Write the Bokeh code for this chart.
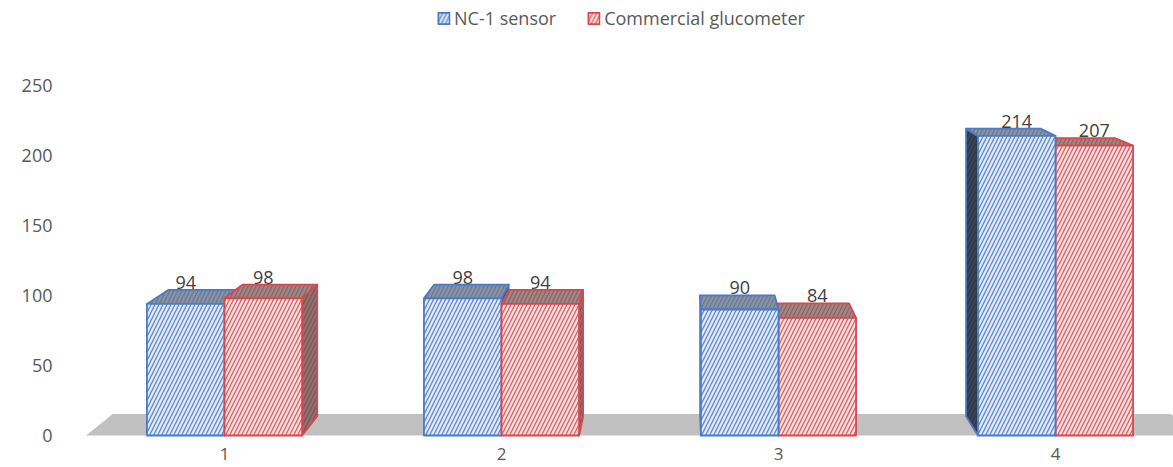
from bokeh.plotting import figure
from bokeh.models import ColumnDataSource, Range1d, FixedTicker, Legend, LegendItem
from bokeh.embed import file_html
from bokeh.resources import INLINE
from bokeh.core.properties import value

# ---- data -------------------------------------------------------------
categories = ["1", "2", "3", "4"]
nc1_sensor = [94, 98, 90, 214]
commercial_glucometer = [98, 94, 84, 207]
series_names = ["NC-1 sensor", "Commercial glucometer"]
y_ticks = [0, 50, 100, 150, 200, 250]

# ---- pseudo-3D look ---------------------------------------------------
FONT = "Open Sans"
BAR_W = 0.28            # width of one bar in category units
VP = (2.646, 343.0)     # point the depth edges recede toward (data units)
K_BAR = 0.04            # bar depth as a fraction of the distance to VP
K_FLOOR = 0.045         # floor depth

STYLE = [
    dict(front=("#E2EAF6", "#5A86CE"), top=("#8893A6", "#6A7892"),
         side=("#3A4453", "#2E3746"), line="#4A7AC8"),
    dict(front=("#FAE2E2", "#DC5A60"), top=("#A38585", "#8A6464"),
         side=("#917070", "#7A5656"), line="#D9474E"),
]


def back(x, y, k):
    return x + k * (VP[0] - x), y + k * (VP[1] - y)


def empty():
    return dict(xs=[], ys=[], fill=[], hatch=[], line=[])


def add(d, pts, fill, hatch, line):
    d["xs"].append([pt[0] for pt in pts])
    d["ys"].append([pt[1] for pt in pts])
    d["fill"].append(fill)
    d["hatch"].append(hatch)
    d["line"].append(line)


# two drawing layers: bars farther from VP first, nearer ones on top
layers = [dict(side=empty(), top=empty(), front=empty()) for _ in range(2)]
legend_rows = {}
labels = dict(x=[], y=[], text=[])

for i, cat in enumerate(categories):
    xc = i + 1
    bars = [(0, xc - BAR_W, xc, nc1_sensor[i]),
            (1, xc, xc + BAR_W, commercial_glucometer[i])]
    bars.sort(key=lambda b: -abs((b[1] + b[2]) / 2 - VP[0]))
    for layer_idx, (s, x0, x1, v) in enumerate(bars):
        st = STYLE[s]
        L = layers[layer_idx]
        if x0 > VP[0]:
            add(L["side"], [(x0, 0), (x0, v), back(x0, v, K_BAR), back(x0, 0, K_BAR)],
                st["side"][0], st["side"][1], st["line"])
        if x1 < VP[0]:
            add(L["side"], [(x1, 0), (x1, v), back(x1, v, K_BAR), back(x1, 0, K_BAR)],
                st["side"][0], st["side"][1], st["line"])
        add(L["top"], [(x0, v), (x1, v), back(x1, v, K_BAR), back(x0, v, K_BAR)],
            st["top"][0], st["top"][1], st["line"])
        if layer_idx == 0 and s not in legend_rows:
            legend_rows[s] = len(L["front"]["xs"])
        add(L["front"], [(x0, 0), (x1, 0), (x1, v), (x0, v)],
            st["front"][0], st["front"][1], st["line"])
        labels["x"].append((x0 + x1) / 2)
        labels["y"].append(back((x0 + x1) / 2, v, K_BAR)[1])
        labels["text"].append(str(v))

# ---- figure -----------------------------------------------------------
p = figure(width=1173, height=467, output_backend="svg", toolbar_location=None,
           x_range=Range1d(0.4368, 4.426), y_range=Range1d(-4.29, 310.7),
           min_border_left=68, min_border_right=0, min_border_top=0,
           min_border_bottom=26)
p.outline_line_color = None
p.xgrid.visible = False
p.ygrid.visible = False
p.background_fill_color = "white"

# floor
fl = [(0.5, 0), (4.5, 0), back(4.5, 0, K_FLOOR), back(0.5, 0, K_FLOOR)]
p.patch([q[0] for q in fl], [q[1] for q in fl], fill_color="#C0C0C0",
        line_color=None)

front_renderers = []
for L in layers:
    for face in ("side", "top", "front"):
        src = ColumnDataSource(L[face])
        r = p.patches("xs", "ys", source=src, fill_color="fill",
                      hatch_color="hatch", hatch_pattern="/", hatch_scale=8,
                      hatch_weight=1.3, line_color="line", line_width=1.8,
                      line_join="round")
        if face == "front":
            front_renderers.append(r)

p.text(x="x", y="y", text="text", source=ColumnDataSource(labels),
       text_font=value(FONT), text_font_size="18px", text_color="#404040",
       text_align="center", text_baseline="bottom", y_offset=-1)

# axes
for ax in (p.xaxis[0], p.yaxis[0]):
    ax.axis_line_color = None
    ax.major_tick_line_color = None
    ax.minor_tick_line_color = None
    ax.major_label_text_font = FONT
    ax.major_label_text_color = "#595959"
p.yaxis.major_label_text_font_size = "18px"
p.yaxis.ticker = FixedTicker(ticks=y_ticks)
p.yaxis.major_label_standoff = 10
p.xaxis.major_label_text_font_size = "17px"
p.xaxis.ticker = FixedTicker(ticks=[i + 1 for i in range(len(categories))])
p.xaxis.major_label_overrides = {i + 1: c for i, c in enumerate(categories)}
p.xaxis.major_label_standoff = 0

legend = Legend(items=[
    LegendItem(label=series_names[s], renderers=[front_renderers[0]],
               index=legend_rows[s]) for s in (0, 1)
], location="top_center", orientation="horizontal")
legend.label_text_font = FONT
legend.label_text_font_size = "18px"
legend.label_text_color = "#595959"
legend.glyph_width = 14
legend.glyph_height = 14
legend.label_standoff = 4
legend.spacing = 30
legend.padding = 4
legend.margin = 6
legend.border_line_color = None
legend.background_fill_alpha = 0
p.add_layout(legend)

open("out.html", "w").write(file_html(p, INLINE))
